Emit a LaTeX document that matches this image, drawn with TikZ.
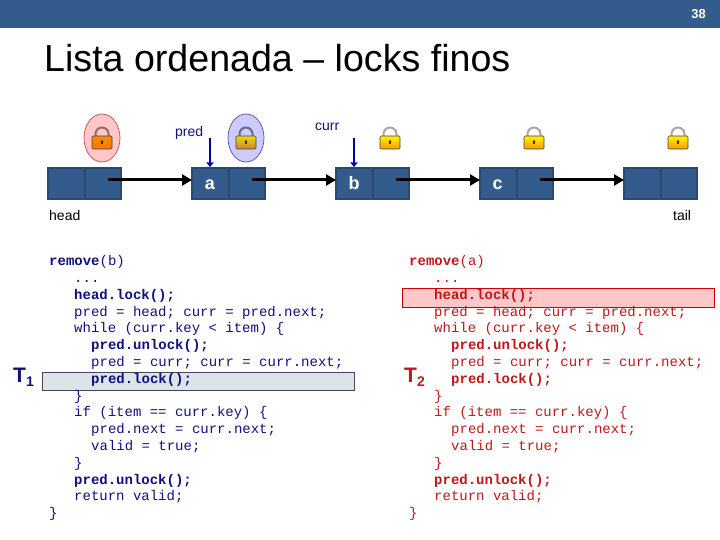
\documentclass[tikz,border=0pt]{standalone}
\usepackage{fontspec}
\setmainfont{Liberation Sans}
\setmonofont{Liberation Mono}
\usetikzlibrary{arrows.meta,shapes.geometric}
\definecolor{bar}{HTML}{335C8C}
\definecolor{boxedge}{HTML}{2A4A72}
\definecolor{codeblue}{HTML}{101080}
\definecolor{codered}{HTML}{C01818}
\definecolor{ptrblue}{HTML}{0000A8}
\tikzset{
  listbox/.style={draw=boxedge,fill=bar,line width=2pt,minimum width=73pt,minimum height=31pt,inner sep=0pt,outer sep=1pt},
  divider/.style={draw=boxedge,line width=2pt},
  keytext/.style={anchor=base,text=white,font=\fontsize{18}{18}\selectfont\bfseries,inner sep=0pt},
  nextarrow/.style={line width=3pt,-{Triangle[length=10pt,width=11pt]}},
  ptrarrow/.style={draw=ptrblue,line width=2pt,-{Triangle[length=4.5pt,width=7pt]}},
  label/.style={anchor=base west,font=\fontsize{14}{14}\selectfont,inner sep=0pt},
  codeline/.style={anchor=base west,inner sep=0pt,font=\ttfamily\fontsize{14}{14}\selectfont},
  boldline/.style={codeline,font=\ttfamily\bfseries\fontsize{14}{14}\selectfont},
  tname/.style={font=\fontsize{21}{21}\selectfont\bfseries,inner sep=0pt},
  lockring/.style={ellipse,minimum width=36pt,minimum height=48pt,inner sep=0pt,line width=.7pt}
}
\newcommand{\padlock}[5]{% x, y, top colour, bottom colour, shackle colour
  \draw[line width=2pt,draw=#5] (#1-6.5,#2) -- (#1-6.5,#2-4) arc[start angle=180,end angle=360,radius=6.5] -- (#1+6.5,#2);
  \draw[draw=black!75,line width=.6pt,rounded corners=1pt,top color=#3,bottom color=#4,shading angle=0] (#1-10,#2-2) rectangle (#1+10,#2+11);
  \fill[black!80] (#1,#2+3.5) circle[radius=1.3];
  \fill[black!80] (#1-.6,#2+3.5) rectangle (#1+.6,#2+6);
}
\newcommand{\codeblock}[4]{% prefix, x0, colour, argument
  \begin{scope}[shift={(#2,0.7)},text=#3]
  \node[codeline] (#1l1) at (0,265) {\textbf{remove}(#4)};
  \node[codeline] (#1l2) at (25,281.8) {...};
  \node[boldline] (#1l3) at (25,298.6) {head.lock();};
  \node[codeline] (#1l4) at (25,315.4) {pred = head; curr = pred.next;};
  \node[codeline] (#1l5) at (25,332.2) {while (curr.key < item) \{};
  \node[boldline] (#1l6) at (42,349) {pred.unlock();};
  \node[codeline] (#1l7) at (42,365.8) {pred = curr; curr = curr.next;};
  \node[boldline] (#1l8) at (42,382.6) {pred.lock();};
  \node[codeline] (#1l9) at (25,399.4) {\}};
  \node[codeline] (#1l10) at (25,416.2) {if (item == curr.key) \{};
  \node[codeline] (#1l11) at (42,433) {pred.next = curr.next;};
  \node[codeline] (#1l12) at (42,449.8) {valid = true;};
  \node[codeline] (#1l13) at (25,466.6) {\}};
  \node[boldline] (#1l14) at (25,483.4) {pred.unlock();};
  \node[codeline] (#1l15) at (25,500.2) {return valid;};
  \node[codeline] (#1l16) at (0,517) {\}};
  \end{scope}
}
\begin{document}
\begin{tikzpicture}[x=1pt,y=-1pt]
\useasboundingbox (0,0) rectangle (720,540);
\fill[white] (0,0) rectangle (720,540);
\fill[bar] (0,0) rectangle (720,28);
\node[anchor=base east,text=white,font=\fontsize{13}{13}\selectfont\bfseries,inner sep=0pt] (pagenum) at (706,19) {38};
\node[anchor=base west,inner sep=0pt,font=\fontsize{37.6}{38}\selectfont] (title) at (44,72) {Lista ordenada – locks finos};

% lock halos
\node[lockring,draw=red!65!black!70,fill=red!22] (haloA) at (102,138) {};
\node[lockring,draw=blue!50!black!70,fill=blue!20] (haloB) at (246,138) {};

% locks
\padlock{102}{138}{orange!90!yellow}{orange!90!red}{gray!80!red}
\padlock{246}{138}{yellow!70!brown}{brown!70!orange}{gray!80!blue}
\padlock{390}{138}{yellow!90!orange}{orange!80!yellow}{gray!70}
\padlock{534}{138}{yellow!90!orange}{orange!80!yellow}{gray!70}
\padlock{678}{138}{yellow!90!orange}{orange!80!yellow}{gray!70}

% list nodes
\node[listbox] (head) at (84.5,183.5) {};
\node[listbox] (na) at (228.5,183.5) {};
\node[listbox] (nb) at (372.5,183.5) {};
\node[listbox] (nc) at (516.5,183.5) {};
\node[listbox] (tail) at (660.5,183.5) {};
\foreach \n in {head,na,nb,nc,tail}{
  \draw[divider] (\n.north) -- (\n.south);
}
\node[keytext] (ka) at (210,190) {a};
\node[keytext] (kb) at (354,190) {b};
\node[keytext] (kc) at (497.5,190) {c};

% next pointers
\coordinate (s0) at (108,180);
\coordinate (s1) at (252,180);
\coordinate (s2) at (396,180);
\coordinate (s3) at (540,180);
\coordinate (e1) at (192,180);
\coordinate (e2) at (336,180);
\coordinate (e3) at (480,180);
\coordinate (e4) at (624,180);
\draw[nextarrow] (s0) -- (e1);
\draw[nextarrow] (s1) -- (e2);
\draw[nextarrow] (s2) -- (e3);
\draw[nextarrow] (s3) -- (e4);

% labels
\node[label,text=black] (headlab) at (49,221) {head};
\node[label,text=black] (taillab) at (673,221) {tail};
\node[label,text=codeblue] (predlab) at (175,136.5) {pred};
\node[label,text=codeblue] (currlab) at (315,131) {curr};
\coordinate (predtop) at (210,138);
\coordinate (currtop) at (354,138);
\draw[ptrarrow] (predtop) -- (na.north -| predtop);
\draw[ptrarrow] (currtop) -- (nb.north -| currtop);

% highlights
\definecolor{hlgrey}{HTML}{DEE3E8}
\definecolor{hledge}{HTML}{3A4A60}
\node[draw=hledge,fill=hlgrey,line width=1pt,minimum width=312pt,minimum height=18pt,inner sep=0pt] (hlL) at (198,381) {};
\node[draw=red!80!black,fill=red!22,line width=1pt,minimum width=312pt,minimum height=19pt,inner sep=0pt] (hlR) at (558,297.5) {};

\codeblock{L}{49}{codeblue}{b}
\codeblock{R}{409}{codered}{a}

\node[tname,text=codeblue,anchor=base west] (t1) at (13,382) {T\raisebox{-4pt}{\fontsize{14}{14}\selectfont 1}};
\node[tname,text=codered,anchor=base west] (t2) at (404,382) {T\raisebox{-4pt}{\fontsize{14}{14}\selectfont 2}};
\end{tikzpicture}
\end{document}
